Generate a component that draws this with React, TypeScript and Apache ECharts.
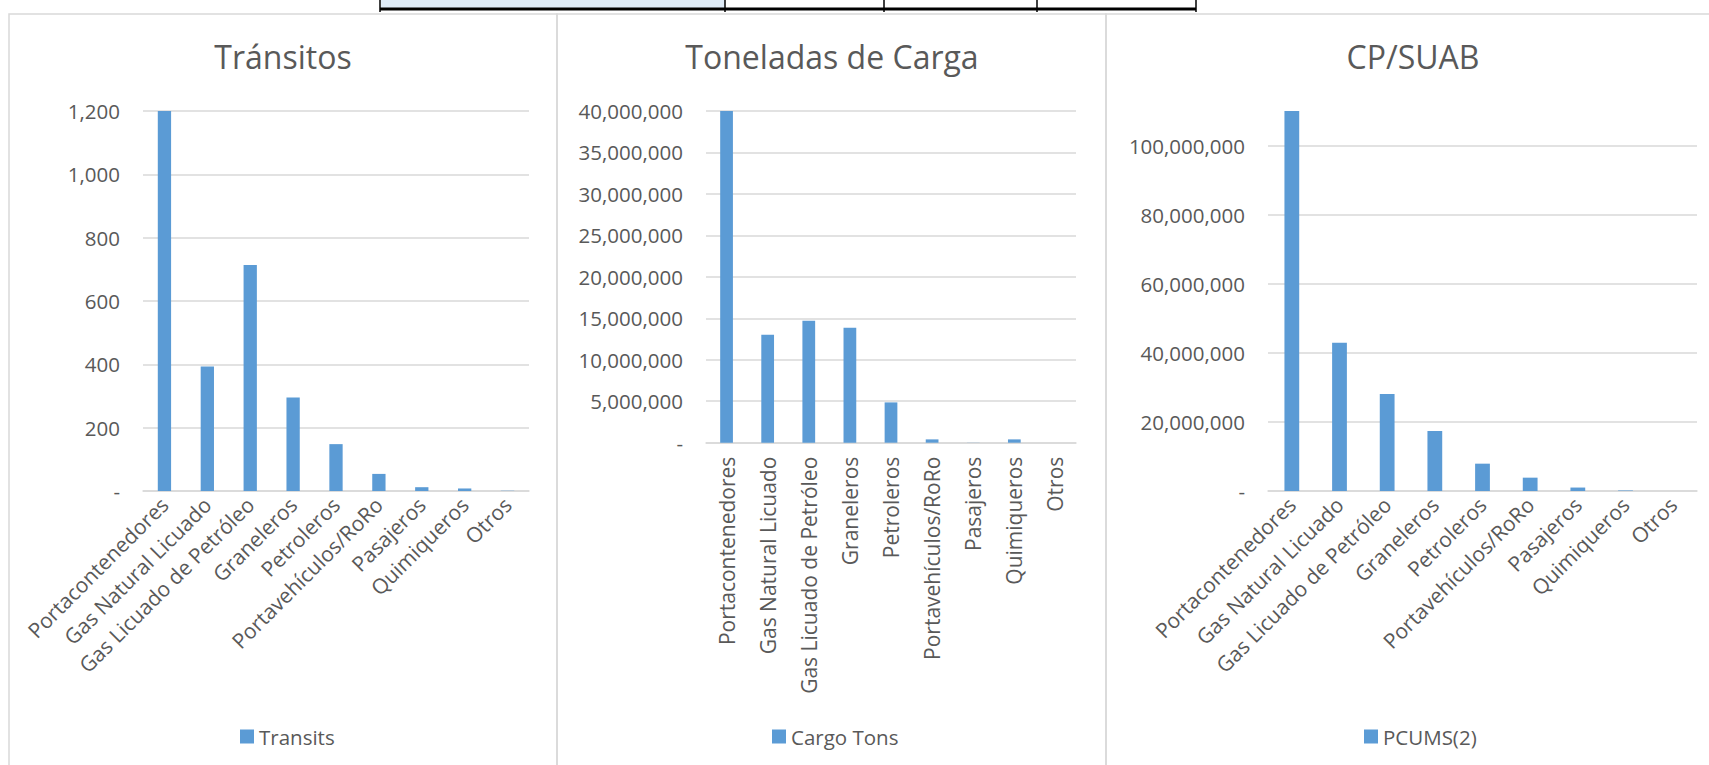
import React, { useEffect, useRef } from "react";
import * as echarts from "echarts";

const categories = [
  "Portacontenedores",
  "Gas Natural Licuado",
  "Gas Licuado de Petróleo",
  "Graneleros",
  "Petroleros",
  "Portavehículos/RoRo",
  "Pasajeros",
  "Quimiqueros",
  "Otros",
];

const transits = [1200, 393, 714, 295, 148, 54, 12, 8, 1];
const cargoTons = [40000000, 13020000, 14710000, 13870000, 4860000, 400000, 15000, 400000, 0];
const pcums = [110000000, 42930000, 28070000, 17370000, 7910000, 3860000, 1000000, 150000, 0];

const titles = ["Tránsitos", "Toneladas de Carga", "CP/SUAB"];
const seriesNames = ["Transits", "Cargo Tons", "PCUMS(2)"];

const FONT = "Open Sans";
const GREY = "#595959";
const GRID = "#d9d9d9";
const BAR = "#5b9bd5";
const FS = 20.5;
const CAT_FS = 21;

const fmt = (v: number) => (v === 0 ? "-" : Math.round(v).toLocaleString("en-US"));

export default function App() {
  const ref = useRef<HTMLDivElement>(null);

  useEffect(() => {
    document.body.style.margin = "0";
    if (!ref.current) return;
    const chart = echarts.init(ref.current, undefined, { renderer: "svg" });

    const grids = [
      { left: 143, top: 111, width: 386, height: 380 },
      { left: 706, top: 111, width: 370, height: 331.7 },
      { left: 1268, top: 111, width: 429, height: 380 },
    ];
    const yCfg = [
      { max: 1200, interval: 200 },
      { max: 40000000, interval: 5000000 },
      { max: 110000000, interval: 20000000 },
    ];
    const rot = [45, 90, 45];
    const margins = [10, 14, 10];
    const titleX = [283, 832, 1413];
    const legendX = [240, 772, 1364];
    const data = [transits, cargoTons, pcums];

    chart.setOption({
      animation: false,
      backgroundColor: "#ffffff",
      title: titles.map((t, i) => ({
        text: t,
        left: titleX[i],
        top: 40,
        padding: 0,
        textAlign: "center",
        textStyle: { fontFamily: FONT, fontSize: 32, fontWeight: "normal", color: GREY },
      })),
      legend: seriesNames.map((n, i) => ({
        data: [n],
        left: legendX[i],
        top: 726,
        padding: 0,
        icon: "rect",
        itemWidth: 14,
        itemHeight: 14,
        textStyle: { fontFamily: FONT, fontSize: FS, color: GREY },
      })),
      grid: grids.map((g) => ({ ...g, containLabel: false })),
      xAxis: grids.map((_, i) => ({
        type: "category",
        gridIndex: i,
        data: categories,
        axisTick: { show: false },
        axisLine: { lineStyle: { color: GRID, width: 1.5 } },
        axisLabel: {
          interval: 0,
          rotate: rot[i],
          margin: margins[i],
          fontFamily: FONT,
          fontSize: CAT_FS,
          color: GREY,
        },
      })),
      yAxis: grids.map((_, i) => ({
        type: "value",
        gridIndex: i,
        min: 0,
        max: yCfg[i].max,
        interval: yCfg[i].interval,
        axisLine: { show: false },
        axisTick: { show: false },
        splitLine: {
          show: true,
          lineStyle: { color: GRID, width: 1.5 },
          showMaxLine: i !== 2,
        },
        axisLabel: {
          margin: 23,
          fontFamily: FONT,
          fontSize: FS,
          color: GREY,
          showMaxLabel: i !== 2,
          formatter: fmt,
        },
      })),
      series: data.map((d, i) => ({
        name: seriesNames[i],
        type: "bar",
        xAxisIndex: i,
        yAxisIndex: i,
        data: d,
        barWidth: "31%",
        itemStyle: { color: BAR },
      })),
      graphic: [
        { type: "rect", shape: { x: 9, y: 14, width: 548, height: 800 }, style: { fill: "none", stroke: GRID, lineWidth: 1.5 } },
        { type: "rect", shape: { x: 557, y: 14, width: 549, height: 800 }, style: { fill: "none", stroke: GRID, lineWidth: 1.5 } },
        { type: "rect", shape: { x: 1106, y: 14, width: 606, height: 800 }, style: { fill: "none", stroke: GRID, lineWidth: 1.5 } },
        { type: "rect", shape: { x: 381, y: 0, width: 344, height: 8 }, style: { fill: "#deebf7" } },
        { type: "line", shape: { x1: 380, y1: 9, x2: 1196, y2: 9 }, style: { stroke: "#000", lineWidth: 3 } },
        { type: "line", shape: { x1: 380, y1: 0, x2: 380, y2: 12 }, style: { stroke: "#000", lineWidth: 1.5 } },
        { type: "line", shape: { x1: 725, y1: 0, x2: 725, y2: 12 }, style: { stroke: "#000", lineWidth: 1.5 } },
        { type: "line", shape: { x1: 884, y1: 0, x2: 884, y2: 12 }, style: { stroke: "#000", lineWidth: 1.5 } },
        { type: "line", shape: { x1: 1037, y1: 0, x2: 1037, y2: 12 }, style: { stroke: "#000", lineWidth: 1.5 } },
        { type: "line", shape: { x1: 1196, y1: 0, x2: 1196, y2: 12 }, style: { stroke: "#000", lineWidth: 1.5 } },
      ],
    });

    return () => chart.dispose();
  }, []);

  return <div ref={ref} style={{ width: 1709, height: 765 }} />;
}
